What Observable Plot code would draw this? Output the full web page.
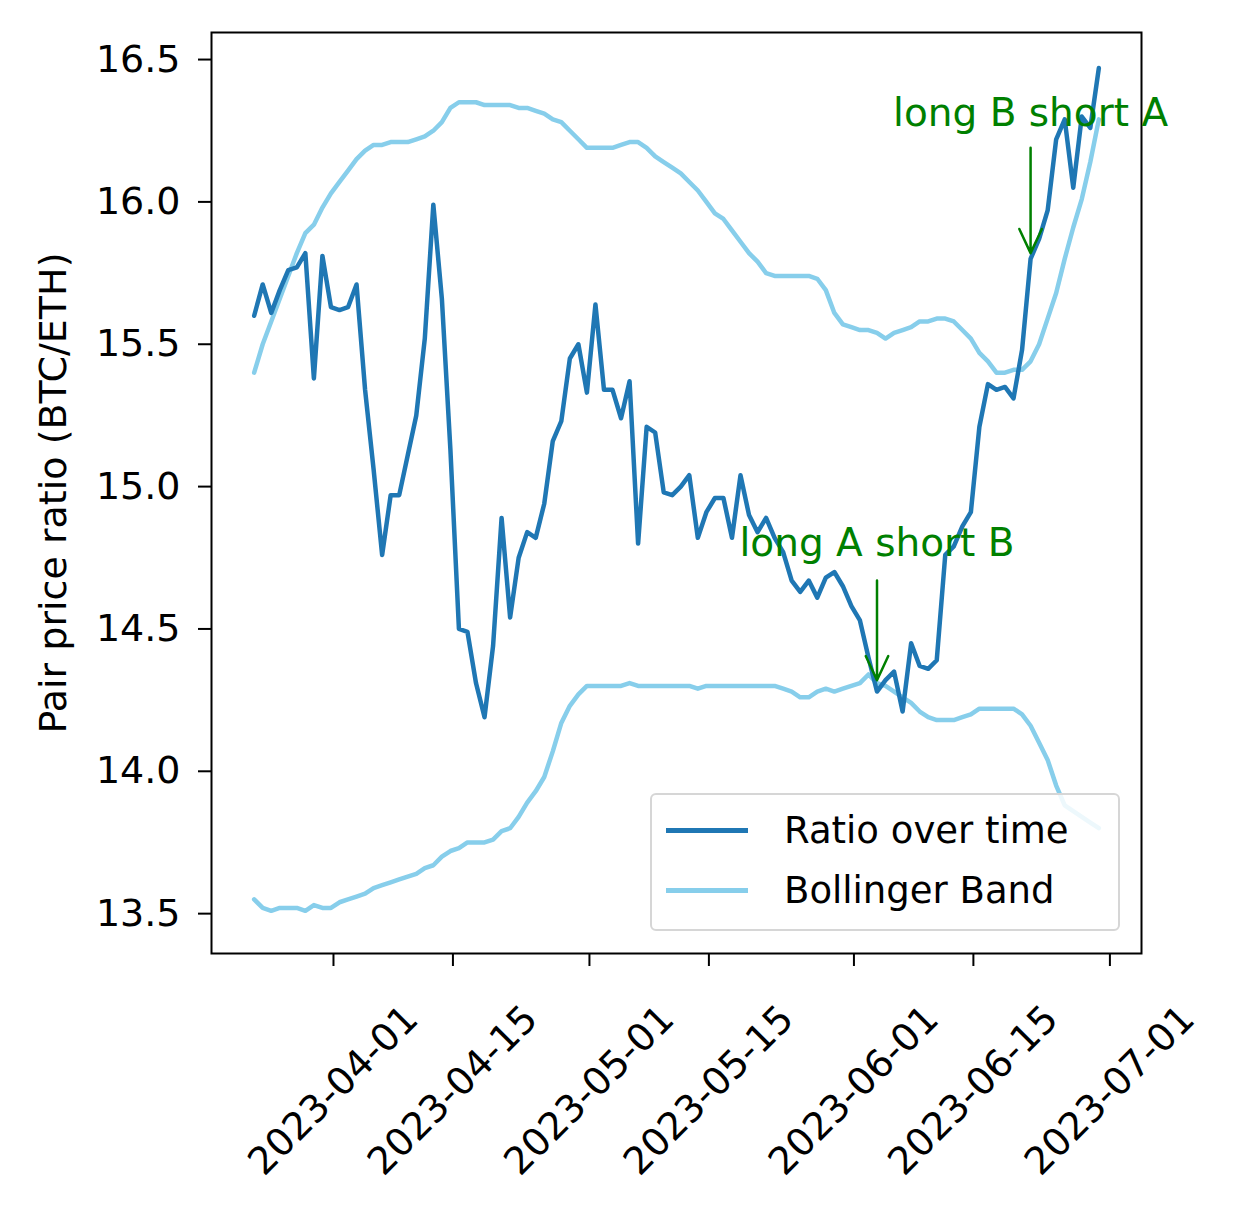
<!DOCTYPE html>
<html>
<head>
<meta charset="utf-8">
<script src="https://cdn.jsdelivr.net/npm/d3@7"></script>
<script src="https://cdn.jsdelivr.net/npm/@observablehq/plot@0.6"></script>
<style>
  body { margin: 0; background: #fff; font-family: "DejaVu Sans", sans-serif; }
  #chart { position: relative; width: 1245px; height: 1213px; }
  .legend { position: absolute; left: 650px; top: 793px; width: 470px; height: 138px;
    border: 2px solid #d6d6d6; border-radius: 6px; background: rgba(255,255,255,0.85);
    box-sizing: border-box; font-size: 37px; }
  .legend div { position: absolute; left: 14px; display: flex; align-items: center; }
  .legend span.sw { display: inline-block; width: 82px; height: 4.5px; margin-right: 36px; }
</style>
</head>
<body>
<div id="chart"></div>
<script>
const startDate = "2023-03-22"
const ratio = [15.60,15.71,15.61,15.69,15.76,15.77,15.82,15.38,15.81,15.63,
  15.62,15.63,15.71,15.34,15.06,14.76,14.97,14.97,15.11,15.25,
  15.52,15.99,15.66,15.13,14.50,14.49,14.31,14.19,14.44,14.89,
  14.54,14.75,14.84,14.82,14.94,15.16,15.23,15.45,15.50,15.33,
  15.64,15.34,15.34,15.24,15.37,14.80,15.21,15.19,14.98,14.97,
  15.00,15.04,14.82,14.91,14.96,14.96,14.82,15.04,14.90,14.84,
  14.89,14.82,14.77,14.67,14.63,14.67,14.61,14.68,14.70,14.65,
  14.58,14.53,14.40,14.28,14.32,14.35,14.21,14.45,14.37,14.36,
  14.39,14.76,14.79,14.86,14.91,15.21,15.36,15.34,15.35,15.31,
  15.48,15.80,15.87,15.97,16.22,16.29,16.05,16.30,16.26,16.47]
const upper = [15.40,15.50,15.58,15.66,15.74,15.82,15.89,15.92,15.98,16.03,
  16.07,16.11,16.15,16.18,16.20,16.20,16.21,16.21,16.21,16.22,
  16.23,16.25,16.28,16.33,16.35,16.35,16.35,16.34,16.34,16.34,
  16.34,16.33,16.33,16.32,16.31,16.29,16.28,16.25,16.22,16.19,
  16.19,16.19,16.19,16.20,16.21,16.21,16.19,16.16,16.14,16.12,
  16.10,16.07,16.04,16.00,15.96,15.94,15.90,15.86,15.82,15.79,
  15.75,15.74,15.74,15.74,15.74,15.74,15.73,15.69,15.61,15.57,
  15.56,15.55,15.55,15.54,15.52,15.54,15.55,15.56,15.58,15.58,
  15.59,15.59,15.58,15.55,15.52,15.47,15.44,15.40,15.40,15.41,
  15.41,15.44,15.50,15.59,15.68,15.80,15.91,16.01,16.14,16.29]
const lower = [13.55,13.52,13.51,13.52,13.52,13.52,13.51,13.53,13.52,13.52,
  13.54,13.55,13.56,13.57,13.59,13.60,13.61,13.62,13.63,13.64,
  13.66,13.67,13.70,13.72,13.73,13.75,13.75,13.75,13.76,13.79,
  13.80,13.84,13.89,13.93,13.98,14.07,14.17,14.23,14.27,14.30,
  14.30,14.30,14.30,14.30,14.31,14.30,14.30,14.30,14.30,14.30,
  14.30,14.30,14.29,14.30,14.30,14.30,14.30,14.30,14.30,14.30,
  14.30,14.30,14.29,14.28,14.26,14.26,14.28,14.29,14.28,14.29,
  14.30,14.31,14.34,14.31,14.30,14.28,14.26,14.24,14.21,14.19,
  14.18,14.18,14.18,14.19,14.20,14.22,14.22,14.22,14.22,14.22,
  14.20,14.16,14.10,14.04,13.95,13.88,13.86,13.84,13.82,13.80]
const xTicks = ["2023-04-01","2023-04-15","2023-05-01","2023-05-15","2023-06-01","2023-06-15","2023-07-01"]
const yTicks = [13.5,14.0,14.5,15.0,15.5,16.0,16.5]
const notes = [
  {label: "long A short B", date: "2023-06-03", textY: 14.80, from: 14.67, to: 14.32},
  {label: "long B short A", date: "2023-06-21", textY: 16.31, from: 16.19, to: 15.82}
]

const parse = d3.utcParse("%Y-%m-%d")
const t0 = parse(startDate)
const rows = ratio.map((v, i) => ({date: d3.utcDay.offset(t0, i), ratio: v, upper: upper[i], lower: lower[i]}))
const noteRows = notes.map(n => ({...n, date: parse(n.date)}))

const chart = Plot.plot({
  width: 1245,
  height: 1213,
  marginLeft: 211, marginRight: 104, marginTop: 32, marginBottom: 260,
  style: {fontFamily: "DejaVu Sans, sans-serif", fontSize: "38px", color: "#000"},
  x: {type: "utc", domain: [parse("2023-03-17"), parse("2023-07-04")]},
  y: {domain: [13.36, 16.595]},
  marks: [
    Plot.frame({stroke: "#000", strokeWidth: 2}),
    Plot.axisY({ticks: yTicks, tickFormat: d3.format(".1f"), tickSize: 13, tickPadding: 18,
      strokeWidth: 2, label: "Pair price ratio (BTC/ETH)", labelAnchor: "center",
      labelArrow: "none", labelOffset: 172}),
    Plot.axisX({ticks: xTicks.map(parse), tickFormat: d3.utcFormat("%Y-%m-%d"), tickSize: 13,
      strokeWidth: 2, tickRotate: -45, textAnchor: "middle", lineAnchor: "middle",
      tickPadding: 124, dx: -6, label: null}),
    Plot.line(rows, {x: "date", y: "upper", stroke: "#87ceeb", strokeWidth: 4.5}),
    Plot.line(rows, {x: "date", y: "lower", stroke: "#87ceeb", strokeWidth: 4.5}),
    Plot.line(rows, {x: "date", y: "ratio", stroke: "#1f77b4", strokeWidth: 4.5}),
    Plot.arrow(noteRows, {x: "date", y1: "from", y2: "to", stroke: "green", strokeWidth: 2.5,
      headLength: 16, headAngle: 50}),
    Plot.text(noteRows, {x: "date", y: "textY", text: "label", fill: "green", fontSize: 39})
  ]
})
const root = document.getElementById("chart")
root.append(chart)

const legend = document.createElement("div")
legend.className = "legend"
legend.innerHTML = `<div style="top:14px"><span class="sw" style="background:#1f77b4"></span>Ratio over time</div>
<div style="top:74px"><span class="sw" style="background:#87ceeb"></span>Bollinger Band</div>`
root.append(legend)
</script>
</body>
</html>
